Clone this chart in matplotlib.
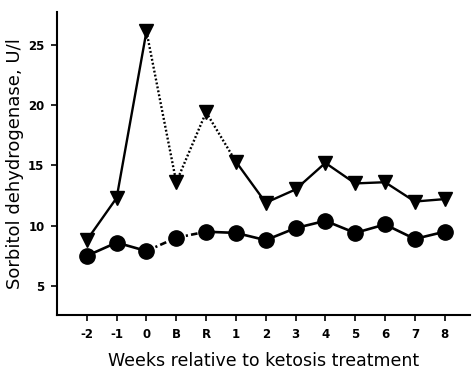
import matplotlib
matplotlib.use("Agg")
import matplotlib.pyplot as plt

weeks = ["-2", "-1", "0", "B", "R", "1", "2", "3", "4", "5", "6", "7", "8"]
sdh_triangle = [8.8, 12.3, 26.1, 13.6, 19.4, 15.3, 11.9, 13.0, 15.2, 13.5, 13.6, 12.0, 12.2]
sdh_circle = [7.5, 8.6, 7.9, 9.0, 9.5, 9.4, 8.8, 9.8, 10.4, 9.4, 10.1, 8.9, 9.5]
tri_styles = ["-", "-", (0, (0.8, 0.9)), (0, (0.8, 0.9)), (0, (0.8, 0.9)), "-", "-", "-", "-", "-", "-", "-"]
cir_styles = ["-", "-", (0, (2.5, 1.2, 0.8, 1.2)), (0, (2.5, 1.2, 0.8, 1.2)), "-", "-", "-", "-", "-", "-", "-", "-"]
yticks = [5, 10, 15, 20, 25]

fig = plt.figure(figsize=(4.73, 3.71), dpi=100)
ax = fig.add_axes([57/473, 1-315/371, (470-57)/473, (315-12)/371])
x = list(range(len(weeks)))

for i in range(len(x)-1):
    ax.plot(x[i:i+2], sdh_triangle[i:i+2], color="black", lw=1.7, linestyle=tri_styles[i],
            solid_capstyle="butt", dash_capstyle="butt", zorder=2)
    ax.plot(x[i:i+2], sdh_circle[i:i+2], color="black", lw=1.9, linestyle=cir_styles[i],
            solid_capstyle="butt", dash_capstyle="butt", zorder=2)
ax.plot(x, sdh_triangle, linestyle="none", marker="v", markersize=10, color="black", zorder=3)
ax.plot(x, sdh_circle, linestyle="none", marker="o", markersize=11, color="black", zorder=3)

ax.set_xlim(-1.0, 12.85)
ax.set_ylim(2.6, 27.7)
ax.set_xticks(x)
ax.set_xticklabels(weeks, fontsize=8.5, fontweight="bold")
ax.set_yticks(yticks)
ax.set_yticklabels([str(v) for v in yticks], fontsize=8.5, fontweight="bold")
for s in ["top", "right"]:
    ax.spines[s].set_visible(False)
for s in ["left", "bottom"]:
    ax.spines[s].set_linewidth(1.5)
ax.tick_params(axis="both", direction="out", length=4, width=1.2, pad=5)
ax.set_xlabel("Weeks relative to ketosis treatment", fontsize=12.5, labelpad=8)
ax.set_ylabel("Sorbitol dehydrogenase, U/l", fontsize=13, labelpad=3)

fig.savefig("out.png", dpi=100)
